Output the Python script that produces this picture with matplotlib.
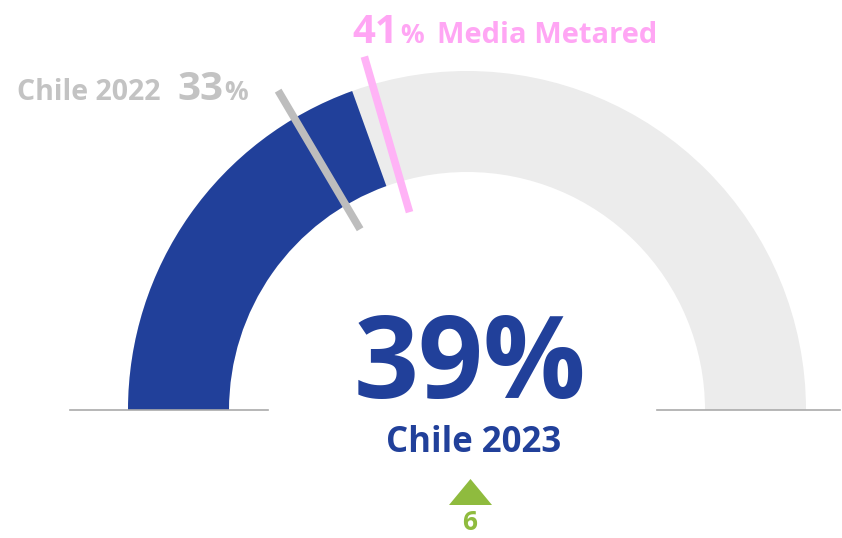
import numpy as np
import matplotlib.pyplot as plt
from matplotlib.patches import Wedge, Polygon

# datos del indicador
valor_2023 = 39
valor_2022 = 33
media_metared = 41
variacion = 6
etiqueta_actual = 'Chile 2023'
etiqueta_anterior = 'Chile 2022'
etiqueta_media = 'Media Metared'

AZUL = '#21409a'
GRIS_FONDO = '#ececec'
GRIS = '#bdbdbd'
ROSA = '#ffb3f6'
ROSA_TXT = '#ffa6f4'
VERDE = '#8fbb3e'

W, H = 842, 538
fig = plt.figure(figsize=(W / 100, H / 100), dpi=100)
ax = fig.add_axes([0, 0, 1, 1])
ax.set_xlim(0, W)
ax.set_ylim(0, H)
ax.axis('off')

plt.rcParams['font.family'] = ['Open Sans', 'DejaVu Sans']

cx, cy = 467, H - 410
r_ext, ancho = 339, 101


def ang(p):
    return 180 - p * 1.8


# arco de fondo y arco de valor
ax.add_patch(Wedge((cx, cy), r_ext, 0, 180, width=ancho, color=GRIS_FONDO, lw=0))
ax.add_patch(Wedge((cx, cy), r_ext, ang(valor_2023), 180, width=ancho, color=AZUL, lw=0))

# lineas base
ax.plot([70, 268], [cy, cy], color='#aaaaaa', lw=1.2)
ax.plot([657, 840], [cy, cy], color='#aaaaaa', lw=1.2)


def marca(p, r0, r1, color):
    a = np.radians(ang(p))
    ax.plot([cx + r0 * np.cos(a), cx + r1 * np.cos(a)],
            [cy + r0 * np.sin(a), cy + r1 * np.sin(a)],
            color=color, lw=5.5, solid_capstyle='butt')


marca(valor_2022, 210, 371, GRIS)
marca(media_metared, 206, 368, ROSA)

# textos
ax.text(352, H - 43, f'{media_metared}', color=ROSA_TXT, fontsize=29, fontweight='bold', va='baseline')
ax.text(400, H - 43, '%', color=ROSA_TXT, fontsize=19, fontweight='bold', va='baseline')
ax.text(437, H - 43, etiqueta_media, color=ROSA_TXT, fontsize=21, fontweight='bold', va='baseline')

ax.text(17, H - 100, etiqueta_anterior, color='#c3c3c3', fontsize=20.5, fontweight='bold', va='baseline')
ax.text(177, H - 100, f'{valor_2022}', color='#c3c3c3', fontsize=29, fontweight='bold', va='baseline')
ax.text(224, H - 100, '%', color='#c3c3c3', fontsize=19, fontweight='bold', va='baseline')

ax.text(470, H - 398, f'{valor_2023}%', color=AZUL, fontsize=82, fontweight='bold',
        ha='center', va='baseline')
ax.text(474, H - 452, etiqueta_actual, color=AZUL, fontsize=25, fontweight='bold',
        ha='center', va='baseline')

ax.add_patch(Polygon([[449, H - 505], [492, H - 505], [470.5, H - 479]], closed=True, color=VERDE, lw=0))
ax.text(470, H - 530, f'{variacion}', color=VERDE, fontsize=19, fontweight='bold',
        ha='center', va='baseline')

fig.savefig('out.png', dpi=100)
